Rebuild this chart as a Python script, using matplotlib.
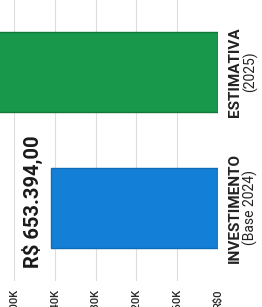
import matplotlib
matplotlib.use("Agg")
import matplotlib.pyplot as plt
import matplotlib.transforms as mtransforms

categories = ["INVESTIMENTO", "ESTIMATIVA"]
subtitles = ["(Base 2024)", "(2025)"]
values = [653394.00, 920000.00]
colors = ["#147fd6", "#17984a"]
edge_colors = ["#0f6cb8", "#11773a"]
tick_values = [0, 160000, 320000, 480000, 640000, 800000]
tick_labels = ["R$0", "R$160K", "R$320K", "R$480K", "R$640K", "R$800K"]
value_label = "R$ 653.394,00"

plt.rcParams['font.family'] = ['Roboto', 'DejaVu Sans']

fig = plt.figure(figsize=(2.62, 3.07), dpi=100)
ax = fig.add_axes([0, 26/307, 218/262, 281/307])

ypos = list(range(len(categories)))
ax.barh(ypos, values, height=0.588, color=colors, edgecolor=edge_colors, linewidth=1.0, zorder=3)

ax.set_xlim(855000, 0)
ax.set_ylim(-0.537, 1.529)

ax.set_xticks(tick_values)
ax.set_xticklabels(tick_labels, rotation=90, fontsize=8, color="#2a2a2a", fontweight='medium')
ax.tick_params(axis='x', length=0, pad=6)
ax.set_yticks([])
ax.grid(axis='x', color='#dddddd', linewidth=0.8, zorder=0)
for s in ax.spines.values():
    s.set_visible(False)

# category labels on the right
trans = mtransforms.blended_transform_factory(ax.transAxes, ax.transData)
for i, (c, sub) in enumerate(zip(categories, subtitles)):
    t1 = mtransforms.offset_copy(trans, fig=fig, x=17, y=0, units='dots')
    ax.text(1, ypos[i], c, transform=t1, rotation=90, ha='center', va='center',
            fontsize=11, fontweight='bold', color='#222222', clip_on=False)
    t2 = mtransforms.offset_copy(trans, fig=fig, x=32, y=0, units='dots')
    ax.text(1, ypos[i], sub, transform=t2, rotation=90, ha='center', va='center',
            fontsize=10, color='#222222', clip_on=False)

# value annotation
ax.annotate(value_label, xy=(values[0], ypos[0]), xytext=(-19, 6), textcoords='offset pixels',
            rotation=90, ha='center', va='center', fontsize=14.5, fontweight='bold',
            color='#1a1a1a', annotation_clip=False)

fig.savefig("out.png", dpi=100)
